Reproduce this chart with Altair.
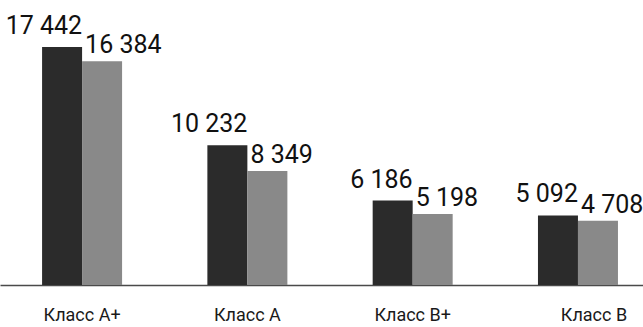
import altair as alt
import pandas as pd

# Office stock by class, two periods
categories = ["Класс A+", "Класс A", "Класс B+", "Класс B"]
series = ["2022", "2023"]
values_first = [17442, 10232, 6186, 5092]
values_second = [16384, 8349, 5198, 4708]

rows = []
for cat, a, b in zip(categories, values_first, values_second):
    rows.append({"cls": cat, "period": series[0], "value": a,
                 "label": f"{a:,}".replace(",", " ")})
    rows.append({"cls": cat, "period": series[1], "value": b,
                 "label": f"{b:,}".replace(",", " ")})
df = pd.DataFrame(rows)

FONT = "Roboto, Liberation Sans, sans-serif"

x = alt.X("cls:N", sort=categories, title=None,
          scale=alt.Scale(paddingInner=0.516, paddingOuter=0.203, align=0.627),
          axis=alt.Axis(labelAngle=0, ticks=False, domainColor="#4a4a4a",
                        domainWidth=1.5, labelFont=FONT, labelFontSize=18,
                        labelColor="#1a1a1a", labelPadding=21,
                        labelOffset={"condition": {"test": f"datum.value === '{categories[3]}'",
                                                   "value": 16},
                                     "value": 0}))
y = alt.Y("value:Q", scale=alt.Scale(domain=[0, 20000], nice=False),
          axis=None)

base = alt.Chart(df)

bars = base.mark_bar(size=40).encode(
    x=x,
    xOffset=alt.XOffset("period:N", sort=series,
                        scale=alt.Scale(paddingInner=0, paddingOuter=0)),
    y=y,
    color=alt.Color("period:N", sort=series,
                    scale=alt.Scale(domain=series, range=["#2b2b2b", "#898989"]),
                    legend=None),
)

labels_first = base.transform_filter(alt.datum.period == series[0]).mark_text(
    align="right", baseline="alphabetic", dx=0, dy=-13,
    font=FONT, fontSize=25, color="#111111",
).encode(x=x, y=y, text="label:N")

labels_second = base.transform_filter(alt.datum.period == series[1]).mark_text(
    align="left", baseline="alphabetic", dx=3, dy=-8,
    font=FONT, fontSize=25, color="#111111",
).encode(x=x, y=y, text="label:N")

chart = alt.layer(bars, labels_first, labels_second).properties(
    width=643, height=273,
    padding={"top": 12, "left": 0, "right": 0, "bottom": 42},
    autosize=alt.AutoSizeParams(type="none"),
).configure(background="white").configure_view(stroke=None)

chart.save("out.html", embed_options={"renderer": "svg", "actions": False})
